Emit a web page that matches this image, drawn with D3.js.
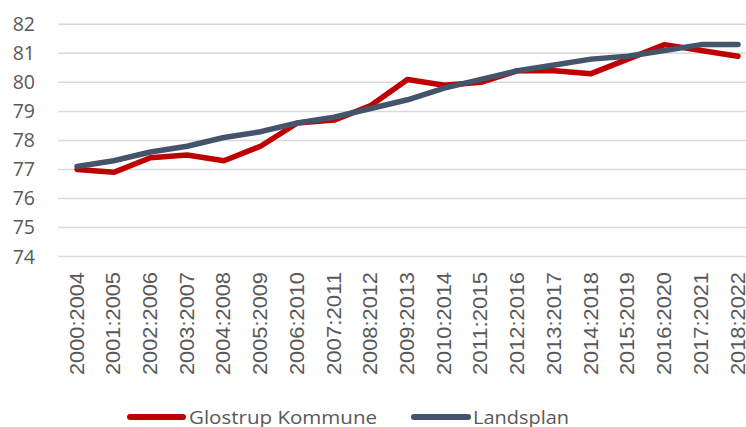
<!DOCTYPE html>
<html>
<head>
<meta charset="utf-8">
<script src="https://cdn.jsdelivr.net/npm/d3@7"></script>
<style>
  body { margin: 0; background: #fff; }
  svg { display: block; }
</style>
</head>
<body>
<div id="chart"></div>
<script>
// periods (x axis)
let periods = ['2000:2004', '2001:2005', '2002:2006', '2003:2007', '2004:2008', '2005:2009',
  '2006:2010', '2007:2011', '2008:2012', '2009:2013', '2010:2014', '2011:2015', '2012:2016',
  '2013:2017', '2014:2018', '2015:2019', '2016:2020', '2017:2021', '2018:2022']

let glostrup = [77.0, 76.9, 77.4, 77.5, 77.3, 77.8, 78.6, 78.7, 79.2, 80.1, 79.9, 80.0, 80.4,
  80.4, 80.3, 80.8, 81.3, 81.1, 80.9]
let landsplan = [77.1, 77.3, 77.6, 77.8, 78.1, 78.3, 78.6, 78.8, 79.1, 79.4, 79.8, 80.1, 80.4,
  80.6, 80.8, 80.9, 81.1, 81.3, 81.3]

let yTicks = [74, 75, 76, 77, 78, 79, 80, 81, 82]
let seriesNames = ['Glostrup Kommune', 'Landsplan']
let colors = ['#C00000', '#44546A']

let width = 746, height = 427

let svg = d3.select('#chart').append('svg')
  .attr('width', width)
  .attr('height', height)

let x = d3.scalePoint().domain(periods).range([77, 738])
let y = d3.scaleLinear().domain([74, 82]).range([256.5, 24.3])

// gridlines
svg.append('g')
  .selectAll('line')
  .data(yTicks)
  .join('line')
  .attr('x1', 58).attr('x2', 760)
  .attr('y1', d => y(d)).attr('y2', d => y(d))
  .attr('stroke', '#D9D9D9')
  .attr('stroke-width', 1.5)

// y labels
svg.append('g')
  .selectAll('text')
  .data(yTicks)
  .join('text')
  .attr('x', 35)
  .attr('y', d => y(d))
  .attr('dy', '0.36em')
  .attr('text-anchor', 'end')
  .attr('fill', '#595959')
  .style('font-family', '"Open Sans", sans-serif')
  .style('font-size', '19.5px')
  .text(d => d)

// x labels, rotated
svg.append('g')
  .selectAll('text')
  .data(periods)
  .join('text')
  .attr('transform', d => `translate(${x(d) + 6.5},272) rotate(-90)`)
  .attr('text-anchor', 'end')
  .attr('fill', '#595959')
  .attr('textLength', 103)
  .attr('lengthAdjust', 'spacingAndGlyphs')
  .style('font-family', '"Liberation Sans", Arial, sans-serif')
  .style('font-size', '19.5px')
  .text(d => d)

let line = d3.line()
  .x((d, i) => x(periods[i]))
  .y(d => y(d))

let all = [glostrup, landsplan]
svg.append('g')
  .selectAll('path')
  .data(all)
  .join('path')
  .attr('d', d => line(d))
  .attr('fill', 'none')
  .attr('stroke', (d, i) => colors[i])
  .attr('stroke-width', 5.5)
  .attr('stroke-linejoin', 'round')
  .attr('stroke-linecap', 'round')

// legend
let legend = [
  {name: seriesNames[0], color: colors[0], x1: 130, x2: 183, tx: 189, tl: 188},
  {name: seriesNames[1], color: colors[1], x1: 414, x2: 468, tx: 473, tl: 96}
]
let lg = svg.append('g')
lg.selectAll('line')
  .data(legend)
  .join('line')
  .attr('x1', d => d.x1).attr('x2', d => d.x2)
  .attr('y1', 417).attr('y2', 417)
  .attr('stroke', d => d.color)
  .attr('stroke-width', 6)
  .attr('stroke-linecap', 'round')
lg.selectAll('text')
  .data(legend)
  .join('text')
  .attr('x', d => d.tx)
  .attr('y', 423.5)
  .attr('fill', '#595959')
  .attr('textLength', d => d.tl)
  .attr('lengthAdjust', 'spacingAndGlyphs')
  .style('font-family', '"Open Sans", sans-serif')
  .style('font-size', '18.5px')
  .text(d => d.name)
</script>
</body>
</html>
